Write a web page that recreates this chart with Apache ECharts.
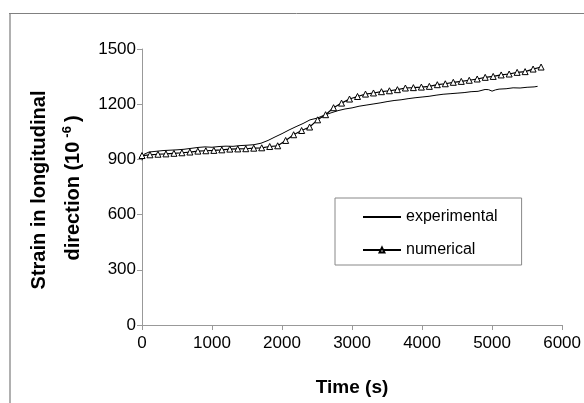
<!DOCTYPE html>
<html>
<head>
<meta charset="utf-8">
<script src="https://cdn.jsdelivr.net/npm/echarts@6/dist/echarts.min.js"></script>
<style>
html,body{margin:0;padding:0;background:#fff;}
#chart{width:584px;height:403px;}
</style>
</head>
<body>
<div id="chart"></div>
<script>
var expTime = [0,30,100,200,300,400,500,600,700,800,900,1000,1100,1200,1300,1400,1500,1600,1700,1800,1900,2000,2100,2200,2300,2400,2500,2600,2700,2800,2900,3000,3100,3200,3300,3400,3500,3600,3700,3800,3900,4000,4100,4200,4300,4400,4500,4600,4700,4800,4900,4950,5000,5050,5100,5200,5300,5400,5500,5600,5650];
var expStrain = [895,928,940,944,948,950,952,955,960,965,968,966,970,972,971,975,977,980,988,1003,1022,1040,1060,1078,1095,1115,1124,1140,1153,1165,1174,1180,1189,1195,1201,1207,1214,1220,1224,1230,1235,1239,1243,1249,1254,1257,1260,1263,1268,1270,1280,1279,1271,1278,1282,1284,1289,1288,1292,1294,1297];
var numTime = [0,114,228,342,456,570,684,798,912,1026,1140,1254,1368,1482,1596,1710,1824,1938,2052,2166,2280,2394,2508,2622,2736,2850,2964,3078,3192,3306,3420,3534,3648,3762,3876,3990,4104,4218,4332,4446,4560,4674,4788,4902,5016,5130,5244,5358,5472,5586,5700];
var numStrain = [921,925,928,930,933,936,940,945,947,949,952,956,957,958,961,963,970,974,1003,1034,1057,1076,1115,1143,1181,1206,1228,1242,1255,1261,1268,1273,1279,1288,1290,1293,1297,1306,1311,1319,1324,1330,1337,1346,1351,1359,1364,1373,1377,1391,1402];
var seriesNames = ['experimental','numerical'];
var xTitle = 'Time (s)';
var yTitle1 = 'Strain in longitudinal';
var yTitle2a = 'direction (10';
var yTitle2sup = '-6';
var yTitle2b = ')';

function pairs(a,b){var r=[];for(var i=0;i<a.length;i++){r.push([a[i],b[i]]);}return r;}

var chart = echarts.init(document.getElementById('chart'), null, {renderer:'canvas'});
var FONT = 'Liberation Sans, Arial, sans-serif';
chart.setOption({
  animation:false,
  backgroundColor:'#fff',
  grid:{left:142,right:19,top:49,bottom:78},
  xAxis:{
    type:'value',min:0,max:6000,interval:1000,
    name:xTitle,nameLocation:'middle',nameGap:53,
    nameTextStyle:{fontFamily:FONT,fontSize:19,fontWeight:'bold',color:'#000'},
    axisLine:{show:true,lineStyle:{color:'#999',width:1}},
    axisTick:{show:true,inside:false,length:5,lineStyle:{color:'#999'}},
    axisLabel:{margin:10,fontFamily:FONT,fontSize:17,color:'#000',formatter:function(v){return String(v);}},
    splitLine:{show:false}
  },
  yAxis:{
    type:'value',min:0,max:1500,interval:300,
    axisLine:{show:true,lineStyle:{color:'#999',width:1}},
    axisTick:{show:true,inside:false,length:5,lineStyle:{color:'#999'}},
    axisLabel:{margin:6,fontFamily:FONT,fontSize:17,color:'#000',formatter:function(v){return String(v);}},
    splitLine:{show:false}
  },
  legend:{
    orient:'vertical',left:335,top:198,
    data:[
      {name:seriesNames[0],itemStyle:{opacity:0}},
      {name:seriesNames[1]}
    ],
    itemWidth:38,itemHeight:6,itemGap:17,
    padding:[11,24,7,27],
    borderColor:'#888',borderWidth:1,backgroundColor:'#fff',
    textStyle:{fontFamily:FONT,fontSize:16,color:'#000'}
  },
  graphic:[
    {type:'line',silent:true,shape:{x1:10,y1:13,x2:10,y2:403},style:{stroke:'#b0b0b0',lineWidth:2}},
    {type:'line',silent:true,shape:{x1:9,y1:13.5,x2:584,y2:13.5},style:{stroke:'#808080',lineWidth:1}},
    {type:'text',x:39,y:190,rotation:Math.PI/2,style:{text:yTitle1,fontFamily:FONT,fontSize:20,fontWeight:'bold',fill:'#000',align:'center',verticalAlign:'middle'}},
    {type:'text',x:73,y:188,rotation:Math.PI/2,style:{
      text:yTitle2a+'{sup|'+yTitle2sup+'}'+yTitle2b,
      fontFamily:FONT,fontSize:20,fontWeight:'bold',fill:'#000',align:'center',verticalAlign:'middle',
      rich:{sup:{fontFamily:FONT,fontSize:13,fontWeight:'bold',fill:'#000',padding:[0,4,11,4],verticalAlign:'bottom'}}
    }}
  ],
  series:[
    {name:seriesNames[0],type:'line',data:pairs(expTime,expStrain),showSymbol:false,symbol:'none',
     lineStyle:{color:'#000',width:1},itemStyle:{color:'#000'},z:2},
    {name:seriesNames[1],type:'line',data:pairs(numTime,numStrain),symbol:'triangle',symbolSize:6,
     lineStyle:{color:'#000',width:1.2},itemStyle:{color:'#fff',borderColor:'#000',borderWidth:1},z:3}
  ]
});
</script>
</body>
</html>
